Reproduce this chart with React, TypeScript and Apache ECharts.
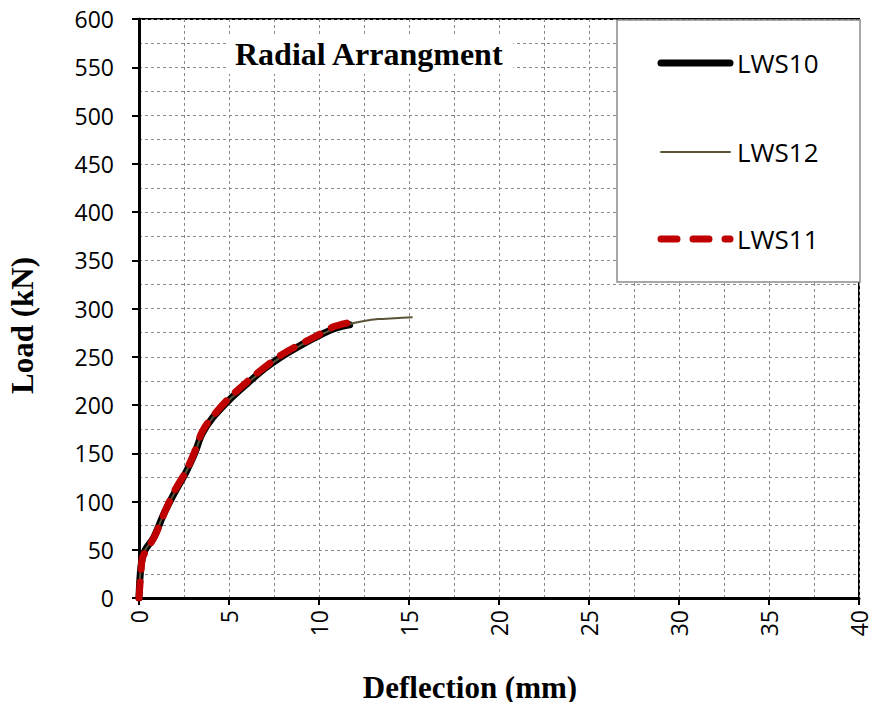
import React, { useEffect, useRef } from "react";
import * as echarts from "echarts";

// Load–deflection readings for the radial arrangement specimens
const lws10Deflection = [0, 0.05, 0.15, 0.35, 0.8, 1.4, 2.0, 2.6, 3.1, 3.5, 4.1, 5.0, 6.0, 7.0, 8.0, 9.0, 10.0, 11.0, 11.7];
const lws10Load = [0, 20, 38, 50, 62, 88, 110, 130, 150, 170, 187, 205, 222, 238, 251, 262, 272, 280, 283];

const lws12Deflection = [0, 0.05, 0.15, 0.35, 0.8, 1.4, 2.0, 2.6, 3.1, 3.5, 4.1, 5.0, 6.0, 7.0, 8.0, 9.0, 10.0, 11.0, 11.7, 12.5, 13.3, 14.2, 15.2];
const lws12Load = [0, 20, 38, 50, 62, 88, 110, 130, 150, 170, 187, 205, 222, 238, 251, 262, 272, 280, 284, 287, 289, 290, 291];

const lws11Deflection = [0, 0.1, 0.2, 0.5, 0.9, 1.5, 2.0, 2.6, 3.1, 3.5, 4.0, 5.0, 6.5, 8.0, 9.9, 10.8, 11.8];
const lws11Load = [0, 25, 42, 52, 65, 92, 112, 131, 152, 172, 186, 207, 232, 253, 272, 281, 286];

const seriesNames = ["LWS10", "LWS12", "LWS11"];
const seriesColors = ["#000000", "#5b5237", "#c00000"];
const chartTitle = "Radial Arrangment";
const xAxisName = "Deflection (mm)";
const yAxisName = "Load (kN)";

const pairs = (xs: number[], ys: number[]) => xs.map((x, i) => [x, ys[i]]);

const labelFont = "'Open Sans', 'Liberation Sans', sans-serif";
const serifFont = "'Liberation Serif', 'Times New Roman', serif";

const gridLine = {
  show: true,
  lineStyle: { color: "#8a8a8a", type: [3, 3] as number[], width: 1 },
};

// Hand-drawn legend box entries (line sample + label)
const legendRows = [
  { y: 63, width: 7, dash: null as number[] | null },
  { y: 152, width: 2, dash: null as number[] | null },
  { y: 239, width: 7, dash: [16, 16] },
];

export default function App() {
  const ref = useRef<HTMLDivElement>(null);

  useEffect(() => {
    if (!ref.current) return;
    const chart = echarts.init(ref.current, undefined, { renderer: "svg" });

    const legendGraphics: any[] = [
      {
        type: "rect",
        z: 10,
        shape: { x: 617, y: 20, width: 243, height: 262 },
        style: { fill: "#fff", stroke: "#8c8c8c", lineWidth: 1.5 },
      },
    ];
    legendRows.forEach((row, i) => {
      legendGraphics.push({
        type: "line",
        z: 11,
        shape: { x1: 661, y1: row.y, x2: 730, y2: row.y },
        style: {
          stroke: seriesColors[i],
          lineWidth: row.width,
          lineCap: "round",
          lineDash: row.dash || undefined,
        },
      });
      legendGraphics.push({
        type: "text",
        z: 11,
        x: 737,
        y: row.y,
        style: {
          text: seriesNames[i],
          fontFamily: labelFont,
          fontSize: 26,
          fill: "#000",
          verticalAlign: "middle",
          align: "left",
        },
      });
    });

    chart.setOption({
      animation: false,
      backgroundColor: "#fff",
      title: {
        text: chartTitle,
        left: 226,
        top: 34,
        padding: [4, 9, 4, 9],
        backgroundColor: "#fff",
        textStyle: {
          fontFamily: serifFont,
          fontWeight: "bold",
          fontSize: 32,
          color: "#000",
        },
        z: 5,
      },
      grid: {
        left: 139,
        right: 12,
        top: 19,
        bottom: 104,
        show: true,
        borderColor: "#000",
        borderWidth: 2,
        backgroundColor: "transparent",
        outerBoundsMode: "none",
        containLabel: false,
      },
      graphic: legendGraphics,
      xAxis: {
        type: "value",
        min: 0,
        max: 40,
        interval: 5,
        name: xAxisName,
        nameLocation: "middle",
        nameGap: 74,
        nameMoveOverlap: false,
        nameTextStyle: {
          fontFamily: serifFont,
          fontWeight: "bold",
          fontSize: 31,
          color: "#000",
          padding: [0, 58, 0, 0],
        },
        axisLine: { show: true, onZero: false, lineStyle: { color: "#000", width: 3 } },
        axisTick: { show: true, length: 7, lineStyle: { color: "#000", width: 2 } },
        minorTick: { show: false, splitNumber: 2 },
        splitLine: gridLine,
        minorSplitLine: gridLine,
        axisLabel: {
          rotate: 90,
          fontFamily: labelFont,
          fontSize: 23,
          color: "#000",
          margin: 12,
        },
      },
      yAxis: {
        type: "value",
        min: 0,
        max: 600,
        interval: 50,
        name: yAxisName,
        nameLocation: "middle",
        nameGap: 101,
        nameMoveOverlap: false,
        nameTextStyle: {
          fontFamily: serifFont,
          fontWeight: "bold",
          fontSize: 31,
          color: "#000",
          padding: [0, 34, 0, 0],
        },
        axisLine: { show: true, onZero: false, lineStyle: { color: "#000", width: 3 } },
        axisTick: { show: true, length: 7, lineStyle: { color: "#000", width: 2 } },
        minorTick: { show: false, splitNumber: 2 },
        splitLine: gridLine,
        minorSplitLine: gridLine,
        axisLabel: {
          fontFamily: labelFont,
          fontSize: 23,
          color: "#000",
          margin: 25,
        },
      },
      series: [
        {
          name: seriesNames[0],
          type: "line",
          data: pairs(lws10Deflection, lws10Load),
          showSymbol: false,
          symbol: "none",
          smooth: 0.3,
          z: 2,
          lineStyle: { color: seriesColors[0], width: 7, cap: "round", join: "round" },
        },
        {
          name: seriesNames[1],
          type: "line",
          data: pairs(lws12Deflection, lws12Load),
          showSymbol: false,
          symbol: "none",
          smooth: 0.3,
          z: 3,
          lineStyle: { color: seriesColors[1], width: 2 },
        },
        {
          name: seriesNames[2],
          type: "line",
          data: pairs(lws11Deflection, lws11Load),
          showSymbol: false,
          symbol: "none",
          smooth: 0.3,
          z: 4,
          lineStyle: { color: seriesColors[2], width: 7, type: [16, 13], cap: "round", join: "round" },
        },
      ],
    });
    return () => chart.dispose();
  }, []);

  return <div ref={ref} style={{ width: 871, height: 702, position: "absolute", left: 0, top: 0 }} />;
}
